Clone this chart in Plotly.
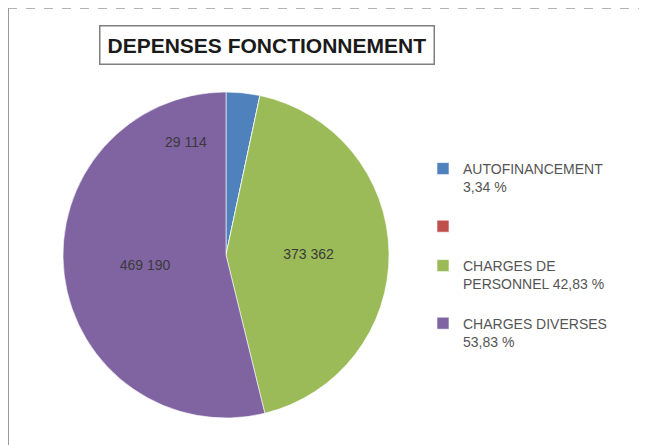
import plotly.graph_objects as go

categories = ["AUTOFINANCEMENT", "", "CHARGES DE PERSONNEL", "CHARGES DIVERSES"]
legend_names = ["AUTOFINANCEMENT<br>{p}", "", "CHARGES DE<br>PERSONNEL {p}", "CHARGES DIVERSES<br>{p}"]
values = [29114, 0, 373362, 469190]
colors = ["#4F81BD", "#C0504D", "#9BBB59", "#8064A2"]
title_text = "DEPENSES FONCTIONNEMENT"

W, H = 647, 445
NB = "\u00a0"
total = sum(values)
labels = []
for i, (tmpl, v) in enumerate(zip(legend_names, values)):
    pct = f"{100 * v / total:.2f}".replace(".", ",") + " %"
    if categories[i]:
        labels.append(tmpl.format(p=pct) + "<br>" + NB)
    else:
        labels.append(NB + "<br>" + NB)

templates = ["" if (v == 0 or v / total < 0.05) else "%{value:,.0f}" for v in values]

fig = go.Figure()
fig.add_trace(go.Pie(
    labels=labels,
    values=values,
    marker=dict(colors=colors, line=dict(color="white", width=0.6)),
    sort=False,
    direction="clockwise",
    rotation=0,
    texttemplate=templates,
    textposition="inside",
    insidetextorientation="horizontal",
    textfont=dict(family="Liberation Sans, Arial", size=14, color="#3a3a3a"),
    hoverinfo="value+percent",
    domain=dict(x=[55 / W, 381 / W], y=[1 - 410 / H, 1 - 84 / H]),
    showlegend=True,
))

# label of the small slice placed in the neighbouring area (Excel best fit)
small_val = values[0]
fig.add_annotation(
    x=178 / W, y=1 - 134 / H, xref="paper", yref="paper",
    xanchor="center", yanchor="middle",
    text=f"{small_val:,}".replace(",", " "), showarrow=False,
    font=dict(family="Liberation Sans, Arial", size=14, color="#3a3a3a"),
)

# boxed title
fig.add_annotation(
    x=259 / W, y=1 - 37 / H, xref="paper", yref="paper",
    xanchor="center", yanchor="middle",
    text="<b>" + title_text + "</b>", showarrow=False,
    font=dict(family="Liberation Sans, Arial", size=21, color="#1a1a1a"),
    bordercolor="#7f7f7f", borderwidth=1.5, borderpad=7, bgcolor="white",
)

# dashed outer frame
fig.add_shape(type="line", xref="paper", yref="paper",
              x0=0, x1=1.0, y0=1, y1=1,
              line=dict(color="#9a9a9a", width=1.5, dash="dash"))
fig.add_shape(type="line", xref="paper", yref="paper",
              x0=0, x1=0, y0=1, y1=0,
              line=dict(color="#9a9a9a", width=2, dash="solid"))

fig.update_layout(
    width=W, height=H,
    margin=dict(l=0, r=0, t=0, b=0),
    paper_bgcolor="white",
    plot_bgcolor="white",
    separators=", ",
    legend=dict(
        x=415 / W, y=1 - 145 / H, xanchor="left", yanchor="top",
        valign="top",
        font=dict(family="Liberation Sans, Arial", size=14, color="#555555"),
        bgcolor="rgba(0,0,0,0)",
    ),
)

fig.write_html("out.html")
